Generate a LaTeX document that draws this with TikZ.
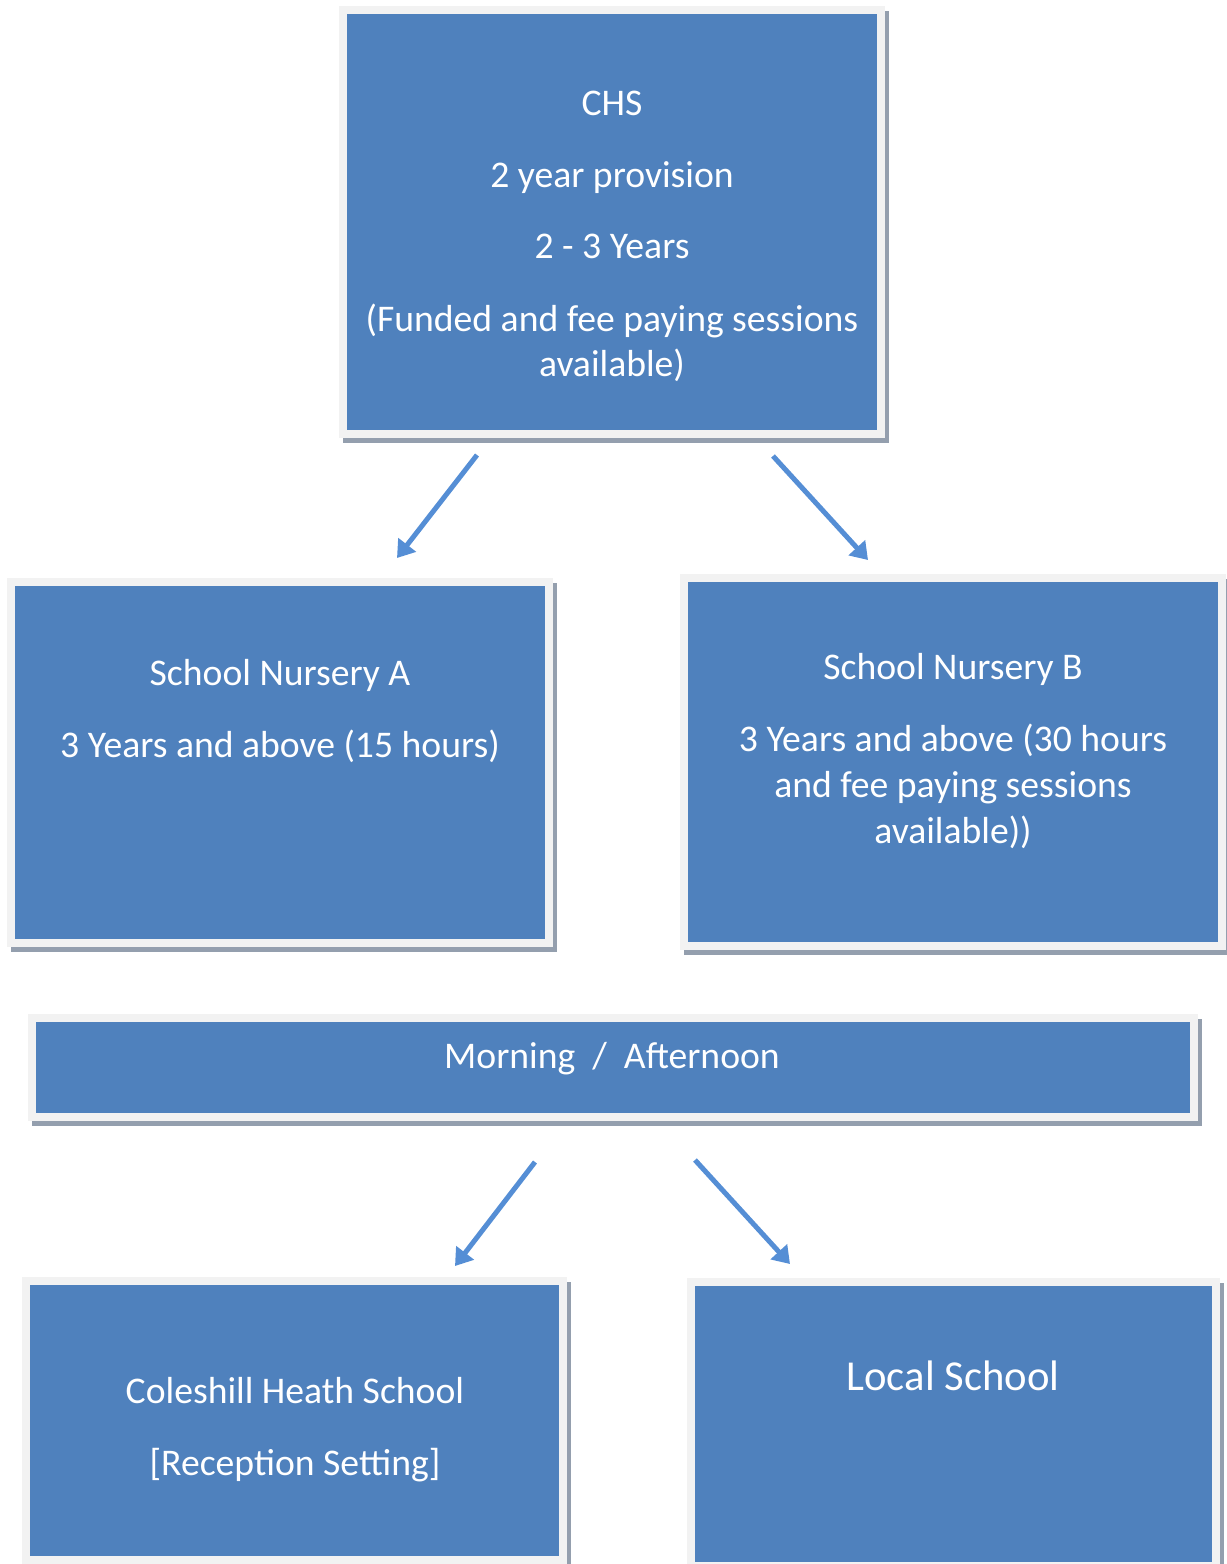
\documentclass[tikz,border=0pt]{standalone}
\usepackage{fontspec}
\setmainfont{Carlito}
\usetikzlibrary{arrows.meta}
\usetikzlibrary{fit}
\usetikzlibrary{positioning}
\definecolor{boxblue}{HTML}{4F81BD}
\definecolor{framegrey}{HTML}{F2F2F2}
\definecolor{shadowgrey}{HTML}{949FAE}
\definecolor{arrowblue}{HTML}{558ED5}
\begin{document}
\begin{tikzpicture}[x=0.3pt, y=-0.3pt, box/.style={rectangle, inner sep=0pt, fill=boxblue, draw=framegrey, line width=2.4pt, preaction={draw=shadowgrey, fill=shadowgrey, line width=2.4pt, transform canvas={shift={(4,5)}}}}, words/.style={text=white, align=center, anchor=base, inner sep=0pt, font=\fontsize{11.3}{13.8}\selectfont}, arrow/.style={draw=arrowblue, line width=1.5pt, -{Triangle[length=5pt, width=6.5pt]}}]
\useasboundingbox (0,0) rectangle (1226,1564);
\node [box, fit={(343,10) (881,434)}] (chs) {};
\node [box, fit={(11,582) (549,943)}] (nurserya) {};
\node [box, fit={(684,578) (1222,946)}] (nurseryb) {};
\node [box, fit={(32,1018) (1194,1117)}] (session) {};
\node [box, fit={(26,1281) (563,1560)}] (coleshill) {};
\node [box, fit={(691,1282) (1216,1566)}] (local) {};
% base anchor sits on the last line
\node [words] (chstext) at (612,377) {CHS\\[7.8pt] 2 year provision\\[7.8pt] 2 - 3 Years\\[7.8pt] (Funded and fee paying sessions\\ available)};
\node [words] (nurseryatext) at (280,757) {School Nursery A\\[7.8pt] 3 Years and above (15 hours)};
\node [words] (nurserybtext) at (953,843) {School Nursery B\\[7.8pt] 3 Years and above (30 hours\\ and fee paying sessions\\ available))};
\node [words] (sessiontext) at (612,1068) {Morning~~/~~Afternoon};
\node [words] (coleshilltext) at (295,1475) {Coleshill Heath School\\[7.8pt] {[Reception Setting]}};
\node [words, font=\fontsize{12.8}{15.4}\selectfont] (localtext) at (953,1390) {Local School};
\coordinate (splitleft) at (477,455);
\coordinate (splitright) at (773,456);
\coordinate (joinleft) at (535,1162);
\coordinate (joinright) at (695,1160);
\draw [arrow] (splitleft) -- (397,558);
\draw [arrow] (splitright) -- (868,560);
\draw [arrow] (joinleft) -- (455,1266);
\draw [arrow] (joinright) -- (790,1264);
\end{tikzpicture}
\end{document}
